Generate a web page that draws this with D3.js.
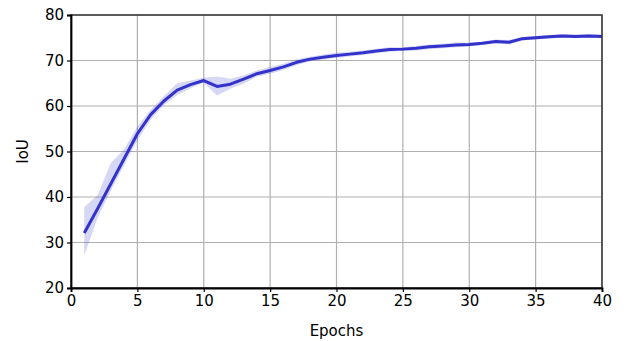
<!DOCTYPE html>
<html>
<head>
<meta charset="utf-8">
<script src="https://cdn.jsdelivr.net/npm/d3@7"></script>
<style>
  html, body { margin: 0; padding: 0; background: #fff; }
  svg text { font-family: "DejaVu Sans", "Noto Sans", sans-serif; fill: #000; }
</style>
</head>
<body>
<svg id="chart" width="633" height="341"></svg>
<script>
const epochs = d3.range(1, 41);
const iouMean = [32.1, 37.4, 42.9, 48.4, 53.9, 58.1, 61.1, 63.5, 64.7, 65.6,
                 64.3, 64.8, 65.9, 67.1, 67.8, 68.6, 69.6, 70.3, 70.7, 71.1,
                 71.4, 71.7, 72.1, 72.4, 72.5, 72.7, 73.0, 73.2, 73.4, 73.5,
                 73.8, 74.2, 74.0, 74.8, 75.0, 75.2, 75.4, 75.3, 75.4, 75.3];
const iouUpper = [37.8, 40.4, 47.5, 50.5, 55.5, 59.2, 62.2, 65.0, 65.6, 66.2,
                  66.5, 66.0, 66.7, 67.8, 68.6, 69.3, 70.3, 70.8, 71.3, 71.7,
                  71.9, 72.2, 72.6, 72.9, 72.9, 73.2, 73.5, 73.7, 74.0, 73.9,
                  74.2, 74.6, 74.5, 75.2, 75.4, 75.6, 75.8, 75.7, 75.8, 75.7];
const iouLower = [27.2, 35.4, 41.4, 47.0, 52.4, 57.0, 60.2, 62.4, 63.9, 65.1,
                  62.3, 63.8, 64.9, 66.5, 67.1, 67.9, 69.0, 69.8, 70.2, 70.6,
                  70.9, 71.2, 71.6, 71.9, 72.1, 72.2, 72.5, 72.7, 72.9, 73.1,
                  73.4, 73.8, 73.5, 74.4, 74.6, 74.8, 75.0, 74.9, 75.0, 74.9];
const xTicks = [0, 5, 10, 15, 20, 25, 30, 35, 40];
const yTicks = [20, 30, 40, 50, 60, 70, 80];

const svg = d3.select("#chart");
const m = {left: 71, right: 31, top: 15, bottom: 53};
const W = 633, H = 341;
const x = d3.scaleLinear().domain([0, 40]).range([m.left, W - m.right]);
const y = d3.scaleLinear().domain([20, 80]).range([H - m.bottom, m.top]);

// grid
svg.append("g").selectAll("line").data(xTicks).join("line")
  .attr("x1", d => x(d)).attr("x2", d => x(d))
  .attr("y1", y(20)).attr("y2", y(80))
  .attr("stroke", "#b0b0b0").attr("stroke-width", 1.2);
svg.append("g").selectAll("line").data(yTicks).join("line")
  .attr("y1", d => y(d)).attr("y2", d => y(d))
  .attr("x1", x(0)).attr("x2", x(40))
  .attr("stroke", "#b0b0b0").attr("stroke-width", 1.2);

const data = epochs.map((e, i) => ({e, m: iouMean[i], lo: iouLower[i], hi: iouUpper[i]}));

svg.append("path").datum(data)
  .attr("fill", "#3333cc").attr("fill-opacity", 0.2)
  .attr("d", d3.area().x(d => x(d.e)).y0(d => y(d.lo)).y1(d => y(d.hi)));

svg.append("path").datum(data)
  .attr("fill", "none").attr("stroke", "#3333cc").attr("stroke-width", 3)
  .attr("stroke-linejoin", "round")
  .attr("d", d3.line().x(d => x(d.e)).y(d => y(d.m)));

// spines
svg.append("rect").attr("x", x(0)).attr("y", y(80))
  .attr("width", x(40) - x(0)).attr("height", y(20) - y(80))
  .attr("fill", "none").attr("stroke", "#333").attr("stroke-width", 1.5);

const xAxis = svg.append("g").attr("transform", `translate(0,${y(20)})`)
  .call(d3.axisBottom(x).tickValues(xTicks).tickSize(4).tickPadding(3));
const yAxis = svg.append("g").attr("transform", `translate(${x(0)},0)`)
  .call(d3.axisLeft(y).tickValues(yTicks).tickSize(4).tickPadding(3));
[xAxis, yAxis].forEach(g => {
  g.select(".domain").attr("stroke", "#000").attr("stroke-width", 1.8);
  g.selectAll(".tick line").attr("stroke", "#000").attr("stroke-width", 1.2);
  g.selectAll(".tick text").attr("font-size", 15).attr("fill", "#000")
    .style("font-family", "DejaVu Sans, sans-serif");
});

svg.append("text").attr("x", x(20)).attr("y", 336)
  .attr("text-anchor", "middle").attr("font-size", 15).text("Epochs");
svg.append("text")
  .attr("transform", `translate(28,${y(50)}) rotate(-90)`)
  .attr("text-anchor", "middle").attr("font-size", 15).text("IoU");
</script>
</body>
</html>
